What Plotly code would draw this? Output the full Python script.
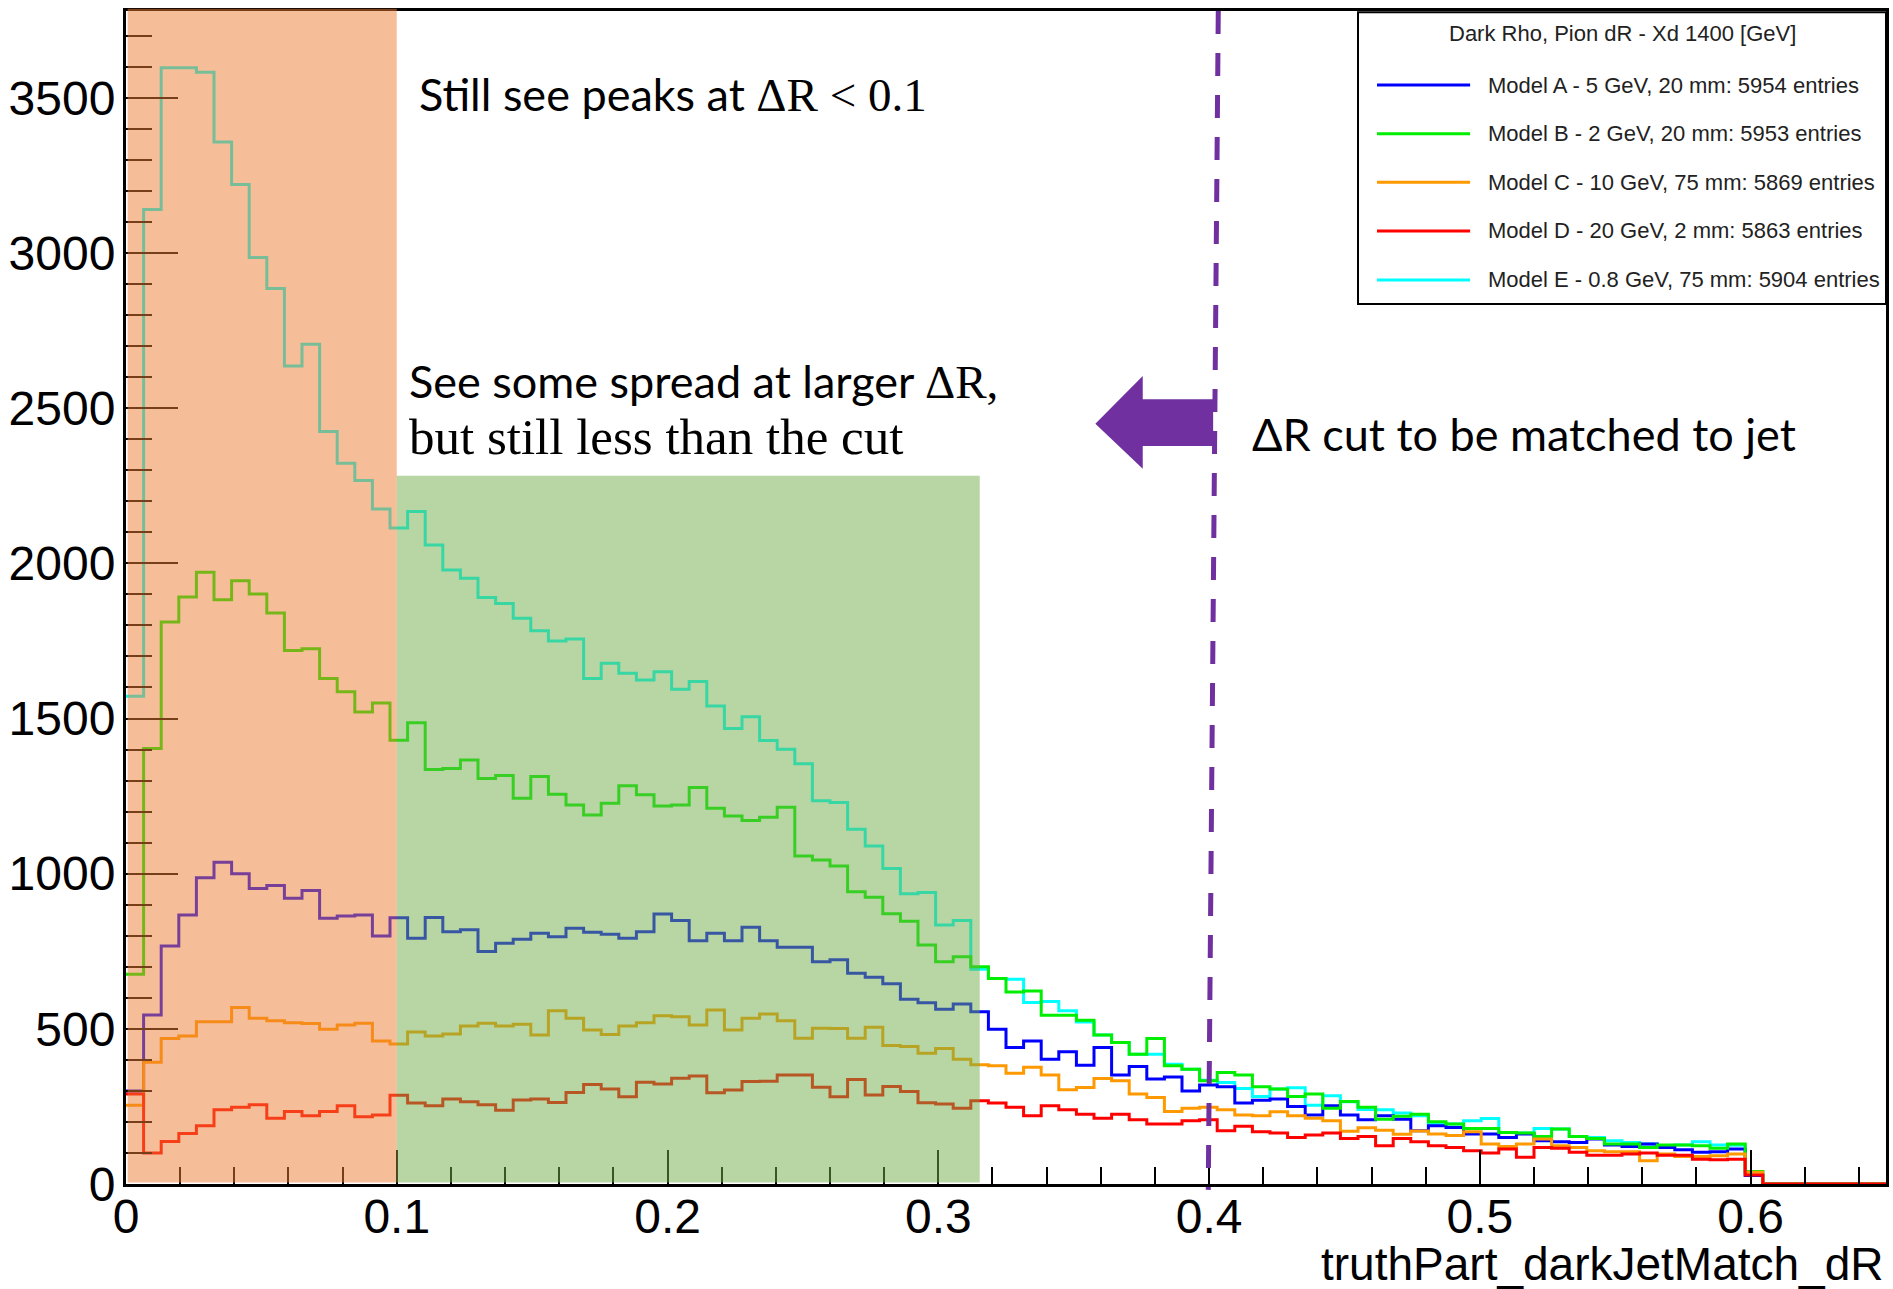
import numpy as np
import plotly.graph_objects as go

# ---------------- data (ROOT histogram: 100 bins from 0 to 0.65) ----------------
BIN_LO, BIN_HI, N_BINS = 0.0, 0.65, 100

model_a = [300, 545, 767, 867, 987, 1037, 1000, 952, 962, 921,
           946, 856, 864, 867, 799, 858, 792, 859, 813, 819,
           749, 776, 789, 808, 797, 824, 811, 805, 792, 813,
           870, 849, 784, 808, 784, 827, 784, 763, 763, 716,
           723, 679, 666, 645, 595, 584, 563, 580, 555, 499,
           440, 461, 402, 426, 383, 440, 351, 379, 338, 345,
           300, 319, 313, 261, 270, 274, 250, 222, 252, 222,
           207, 220, 209, 172, 188, 182, 161, 161, 150, 161,
           139, 136, 134, 145, 126, 121, 129, 118, 110, 102,
           104, 113, 27, 0, 0, 0, 0, 0, 0, 0]

model_b = [676, 1403, 1811, 1892, 1971, 1883, 1944, 1901, 1840, 1719,
           1725, 1629, 1586, 1521, 1550, 1430, 1486, 1336, 1339, 1366,
           1307, 1316, 1243, 1313, 1256, 1221, 1189, 1227, 1283, 1254,
           1218, 1221, 1278, 1211, 1186, 1171, 1182, 1214, 1057, 1044,
           1025, 942, 924, 871, 847, 770, 716, 732, 700, 662,
           619, 622, 544, 544, 528, 480, 456, 418, 469, 381,
           370, 333, 359, 351, 313, 306, 282, 290, 244, 266,
           247, 209, 218, 225, 201, 193, 179, 179, 166, 164,
           153, 177, 153, 147, 129, 129, 118, 126, 126, 123,
           115, 129, 40, 0, 0, 0, 0, 0, 0, 0]

model_c = [254, 392, 469, 477, 523, 523, 569, 534, 526, 520,
           517, 499, 512, 518, 461, 451, 490, 477, 483, 509,
           518, 509, 515, 480, 558, 534, 496, 482, 509, 520,
           542, 539, 512, 561, 496, 534, 548, 526, 470, 502,
           501, 470, 505, 446, 443, 421, 437, 402, 384, 381,
           357, 376, 351, 304, 311, 340, 333, 290, 279, 234,
           244, 247, 239, 222, 220, 233, 220, 212, 204, 170,
           181, 173, 160, 171, 161, 156, 168, 129, 121, 129,
           145, 123, 118, 107, 104, 104, 75, 97, 89, 89,
           91, 97, 38, 0, 0, 0, 0, 0, 0, 0]

model_d = [290, 100, 137, 163, 188, 239, 247, 255, 212, 234,
           220, 234, 252, 217, 222, 286, 261, 252, 274, 265,
           255, 238, 271, 274, 263, 295, 321, 306, 281, 328,
           322, 341, 348, 294, 303, 330, 331, 351, 351, 312,
           281, 337, 287, 314, 298, 262, 258, 244, 268, 261,
           247, 220, 252, 239, 225, 212, 225, 207, 193, 193,
           204, 207, 172, 186, 168, 164, 150, 158, 164, 147,
           153, 123, 147, 136, 123, 118, 107, 100, 113, 86,
           118, 115, 102, 93, 93, 97, 100, 93, 93, 80,
           78, 80, 29, 0, 0, 0, 0, 0, 0, 0]

model_e = [1572, 3140, 3597, 3597, 3583, 3358, 3221, 2986, 2886, 2636,
           2706, 2425, 2323, 2267, 2175, 2114, 2167, 2059, 1979, 1952,
           1890, 1871, 1823, 1783, 1750, 1756, 1629, 1678, 1646, 1624,
           1651, 1594, 1619, 1540, 1468, 1506, 1429, 1401, 1354, 1235,
           1229, 1143, 1089, 1017, 935, 939, 835, 849, 692, 662,
           660, 585, 588, 558, 522, 480, 456, 418, 418, 386,
           370, 334, 327, 308, 282, 306, 310, 254, 284, 265,
           240, 239, 229, 220, 193, 193, 204, 211, 166, 164,
           179, 177, 153, 150, 139, 134, 129, 123, 126, 136,
           126, 125, 40, 0, 0, 0, 0, 0, 0, 0]

legend_title = "Dark Rho, Pion dR - Xd 1400 [GeV]"
legend_labels = ["Model A - 5 GeV, 20 mm: 5954 entries",
                 "Model B - 2 GeV, 20 mm: 5953 entries",
                 "Model C - 10 GeV, 75 mm: 5869 entries",
                 "Model D - 20 GeV, 2 mm: 5863 entries",
                 "Model E - 0.8 GeV, 75 mm: 5904 entries"]
x_title = "truthPart_darkJetMatch_dR"

# highlighted regions / markers (in data units)
peak_region = (0.0006, 0.1)
spread_region = (0.1, 0.3153, 2282)
cut_value_top, cut_value_bottom = 0.4034, 0.3997

# ---------------- styles ----------------
colors = {"A": "#0000ff", "B": "#00ee00", "C": "#ff9900", "D": "#ff0000", "E": "#00ffff"}
SANS = "Liberation Sans, Arial, sans-serif"
CAL = "Lato, Carlito, Calibri, sans-serif"
SERIF = "Liberation Serif, Times New Roman, serif"
PURPLE = "#7030a0"

edges = np.linspace(BIN_LO, BIN_HI, N_BINS + 1)

fig = go.Figure()
draw_order = [("E", model_e, 4), ("A", model_a, 0), ("B", model_b, 1), ("C", model_c, 2), ("D", model_d, 3)]
for key, vals, li in draw_order:
    yv = list(vals) + [vals[-1]]
    fig.add_trace(go.Scatter(x=edges, y=yv, mode="lines", line=dict(color=colors[key], width=3, shape="hv"),
                             name=legend_labels[li], showlegend=False, hoverinfo="skip"))

shapes = []
# orange highlight (peak region)
shapes.append(dict(type="rect", xref="x", yref="paper", x0=peak_region[0], x1=peak_region[1],
                   y0=0.0013, y1=1.002, fillcolor="rgba(237,125,49,0.5)", line=dict(width=0), layer="above"))
# green highlight (spread region)
shapes.append(dict(type="rect", xref="x", yref="y", x0=spread_region[0], x1=spread_region[1],
                   y0=5, y1=spread_region[2], fillcolor="rgba(112,173,71,0.5)", line=dict(width=0), layer="above"))
# dashed cut line
shapes.append(dict(type="line", xref="x", yref="paper", x0=cut_value_top, y0=1.0, x1=cut_value_bottom, y1=-0.005,
                   line=dict(color=PURPLE, width=5, dash="23px,19px"), layer="above"))
# block arrow pointing left
tip_x, tip_y = 0.3580, 2450
head_x, head_top, head_bot = 0.3755, 2604, 2305
shaft_end, shaft_top, shaft_bot = 0.4015, 2529, 2378
arrow_path = (f"M {tip_x},{tip_y} L {head_x},{head_top} L {head_x},{shaft_top} L {shaft_end},{shaft_top} "
              f"L {shaft_end},{shaft_bot} L {head_x},{shaft_bot} L {head_x},{head_bot} Z")
shapes.append(dict(type="path", xref="x", yref="y", path=arrow_path, fillcolor=PURPLE,
                   line=dict(width=0), layer="above"))
# legend box
shapes.append(dict(type="rect", xref="paper", yref="paper", x0=0.7, x1=1.0, y0=0.7502, y1=0.999,
                   fillcolor="white", line=dict(color="black", width=2), layer="above"))
leg_y = [0.9369, 0.8954, 0.8540, 0.8125, 0.7707]
leg_cols = [colors[k] for k in "ABCDE"]
for yy, cc in zip(leg_y, leg_cols):
    shapes.append(dict(type="line", xref="paper", yref="paper", x0=0.7108, x1=0.7637, y0=yy, y1=yy,
                       line=dict(color=cc, width=3), layer="above"))

annotations = []
annotations.append(dict(xref="paper", yref="paper", x=0.85, y=0.9806, text=legend_title, showarrow=False,
                        xanchor="center", yanchor="middle", font=dict(family=SANS, size=22, color="#222")))
for yy, lab in zip(leg_y, legend_labels):
    annotations.append(dict(xref="paper", yref="paper", x=0.7728, y=yy, text=lab, showarrow=False,
                            xanchor="left", yanchor="middle", font=dict(family=SANS, size=22, color="#222")))

annotations.append(dict(xref="paper", yref="paper", x=0.1654, y=0.929,
                        text=f'Still see peaks at <span style="font-family:{SERIF};font-size:47px">ΔR &lt; 0.1</span>',
                        showarrow=False, xanchor="left", yanchor="middle", font=dict(family=CAL, size=45, color="black")))
annotations.append(dict(xref="paper", yref="paper", x=0.1595, y=0.6846,
                        text=f'See some spread at larger <span style="font-family:{SERIF};font-size:47px">ΔR,</span>',
                        showarrow=False, xanchor="left", yanchor="middle", font=dict(family=CAL, size=45, color="black")))
annotations.append(dict(xref="paper", yref="paper", x=0.1595, y=0.6368,
                        text="but still less than the cut",
                        showarrow=False, xanchor="left", yanchor="middle", font=dict(family=SERIF, size=51, color="black")))
annotations.append(dict(xref="paper", yref="paper", x=0.6385, y=0.639,
                        text="ΔR cut to be matched to jet",
                        showarrow=False, xanchor="left", yanchor="middle", font=dict(family=CAL, size=45, color="black")))
annotations.append(dict(xref="paper", yref="paper", x=1.0, y=-0.068, text=x_title, showarrow=False,
                        xanchor="right", yanchor="middle", font=dict(family=SANS, size=46, color="black")))

tickfont = dict(family=SANS, size=48, color="black")
fig.update_layout(
    width=1893, height=1289,
    margin=dict(l=126, r=7, t=11, b=105, autoexpand=False),
    paper_bgcolor="white", plot_bgcolor="white",
    showlegend=False,
    xaxis=dict(range=[BIN_LO, BIN_HI], tickmode="linear", tick0=0, dtick=0.1,
               ticks="inside", ticklen=34, tickwidth=2, tickcolor="black",
               showline=True, linewidth=3, linecolor="black", mirror=True,
               showgrid=False, zeroline=False, tickfont=tickfont, automargin=False, ticklabelstandoff=-12,
               minor=dict(ticks="inside", tick0=0, dtick=0.02, ticklen=17, tickwidth=2, tickcolor="black", showgrid=False)),
    yaxis=dict(range=[0, 3780], tickmode="linear", tick0=0, dtick=500,
               ticks="inside", ticklen=52, tickwidth=2, tickcolor="black",
               showline=True, linewidth=3, linecolor="black", mirror=True,
               showgrid=False, zeroline=False, tickfont=tickfont, automargin=False, ticklabelstandoff=-2,
               minor=dict(ticks="inside", tick0=0, dtick=100, ticklen=26, tickwidth=2, tickcolor="black", showgrid=False)),
    shapes=shapes,
    annotations=annotations,
)

fig.write_html("out.html")
